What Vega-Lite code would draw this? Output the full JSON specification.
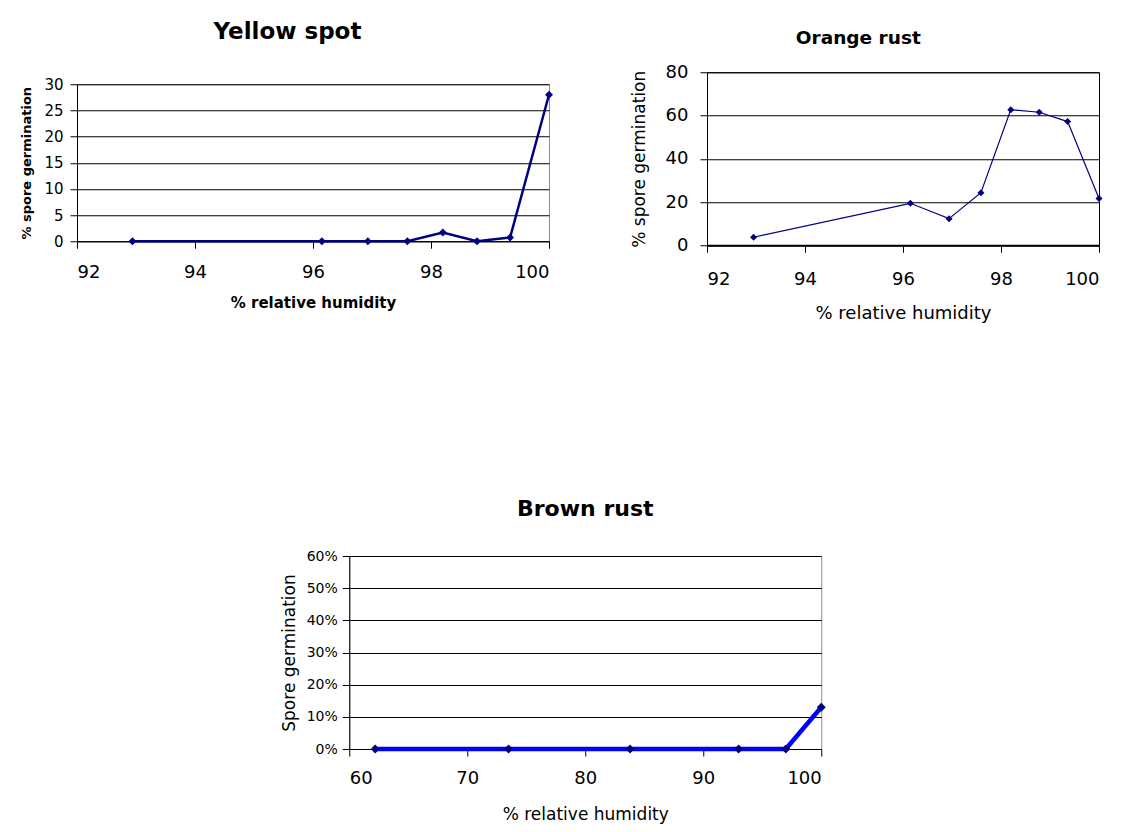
{
  "$schema": "https://vega.github.io/schema/vega-lite/v6.json",
  "background": "white",
  "padding": {"left": 20, "top": 20, "right": 5, "bottom": 5},
  "datasets": {
    "yellow": [
      {"rh": 92.94, "germ": 0},
      {"rh": 96.15, "germ": 0},
      {"rh": 96.93, "germ": 0},
      {"rh": 97.6, "germ": 0},
      {"rh": 98.2, "germ": 1.65},
      {"rh": 98.78, "germ": 0},
      {"rh": 99.34, "germ": 0.7},
      {"rh": 100, "germ": 28}
    ],
    "orange": [
      {"rh": 92.95, "germ": 3.7},
      {"rh": 96.15, "germ": 19.4},
      {"rh": 96.94, "germ": 12.3},
      {"rh": 97.59, "germ": 24.3},
      {"rh": 98.2, "germ": 62.7},
      {"rh": 98.78, "germ": 61.5},
      {"rh": 99.36, "germ": 57.2},
      {"rh": 100, "germ": 21.6}
    ],
    "brown": [
      {"rh": 62.2, "germ": 0},
      {"rh": 73.5, "germ": 0},
      {"rh": 83.8, "germ": 0},
      {"rh": 93.0, "germ": 0},
      {"rh": 97.0, "germ": 0},
      {"rh": 100, "germ": 0.13}
    ]
  },
  "config": {
    "font": "DejaVu Sans",
    "axis": {
      "domainColor": "black",
      "tickColor": "black",
      "labelColor": "black",
      "titleColor": "black",
      "gridColor": "black",
      "gridOpacity": 1,
      "tickSize": 7,
      "labelOverlap": false,
      "labelFont": "DejaVu Sans",
      "titleFont": "DejaVu Sans"
    },
    "title": {"color": "black", "font": "DejaVu Sans", "anchor": "middle"}
  },
  "vconcat": [
    {
      "hconcat": [
        {
          "width": 472,
          "height": 157,
          "view": {"stroke": "#8c8c8c", "strokeWidth": 1},
          "title": {"text": "Yellow spot", "fontSize": 23, "fontWeight": "bold", "offset": 33, "frame": "bounds"},
          "data": {"name": "yellow"},
          "encoding": {
            "x": {"field": "rh", "type": "quantitative", "scale": {"domain": [92, 100]},
              "axis": {"values": [92, 94, 96, 98, 100], "format": "d", "grid": false, "labelFontSize": 18, "labelPadding": 15, "title": "% relative humidity", "titleFontSize": 15, "titleFontWeight": "bold", "titlePadding": 14}},
            "y": {"field": "germ", "type": "quantitative", "scale": {"domain": [0, 30]},
              "axis": {"values": [0, 5, 10, 15, 20, 25, 30], "format": "d", "grid": true, "labelFontSize": 15, "labelPadding": 7, "title": "% spore germination", "titleFontSize": 13, "titleFontWeight": "bold", "titlePadding": 10}}
          },
          "layer": [
            {"mark": {"type": "line", "color": "#000080", "strokeWidth": 2.5}},
            {"mark": {"type": "point", "shape": "diamond", "filled": true, "color": "#000080", "size": 64, "opacity": 1}}
          ]
        },
        {
          "width": 392,
          "height": 173,
          "view": {"stroke": "black", "strokeWidth": 1},
          "title": {"text": "Orange rust", "fontSize": 18.5, "fontWeight": "bold", "offset": 16, "dx": -8, "frame": "bounds"},
          "data": {"name": "orange"},
          "encoding": {
            "x": {"field": "rh", "type": "quantitative", "scale": {"domain": [92, 100]},
              "axis": {"values": [92, 94, 96, 98, 100], "format": "d", "grid": false, "domainWidth": 2, "labelFontSize": 18, "labelPadding": 18, "title": "% relative humidity", "titleFontSize": 18, "titleFontWeight": "normal", "titlePadding": 16}},
            "y": {"field": "germ", "type": "quantitative", "scale": {"domain": [0, 80]},
              "axis": {"values": [0, 20, 40, 60, 80], "format": "d", "grid": true, "labelFontSize": 18, "labelPadding": 12, "title": "% spore germination", "titleFontSize": 17, "titleFontWeight": "normal", "titlePadding": 17}}
          },
          "layer": [
            {"mark": {"type": "line", "color": "#000080", "strokeWidth": 1.2}},
            {"mark": {"type": "point", "shape": "diamond", "filled": true, "color": "#000080", "size": 49, "opacity": 1}}
          ]
        }
      ],
      "spacing": 74,
      "center": true
    },
    {
      "width": 472,
      "height": 193,
      "view": {"stroke": "#8c8c8c", "strokeWidth": 1},
      "title": {"text": "Brown rust", "fontSize": 22, "fontWeight": "bold", "offset": 28, "frame": "group"},
      "data": {"name": "brown"},
      "encoding": {
        "x": {"field": "rh", "type": "quantitative", "scale": {"domain": [60, 100]},
          "axis": {"values": [60, 70, 80, 90, 100], "format": "d", "grid": false, "labelFontSize": 18, "labelPadding": 13, "title": "% relative humidity", "titleFontSize": 17, "titleFontWeight": "normal", "titlePadding": 19}},
        "y": {"field": "germ", "type": "quantitative", "scale": {"domain": [0, 0.6]},
          "axis": {"values": [0, 0.1, 0.2, 0.3, 0.4, 0.5, 0.6], "format": ".0%", "grid": true, "labelFontSize": 14, "labelPadding": 5, "title": "Spore germination", "titleFontSize": 17, "titleFontWeight": "normal", "titlePadding": 8}}
      },
      "layer": [
        {"mark": {"type": "line", "color": "#0000FF", "strokeWidth": 4.5}},
        {"mark": {"type": "point", "shape": "diamond", "filled": true, "color": "#000080", "size": 80, "opacity": 1}}
      ]
    }
  ],
  "spacing": 174,
  "center": true
}
